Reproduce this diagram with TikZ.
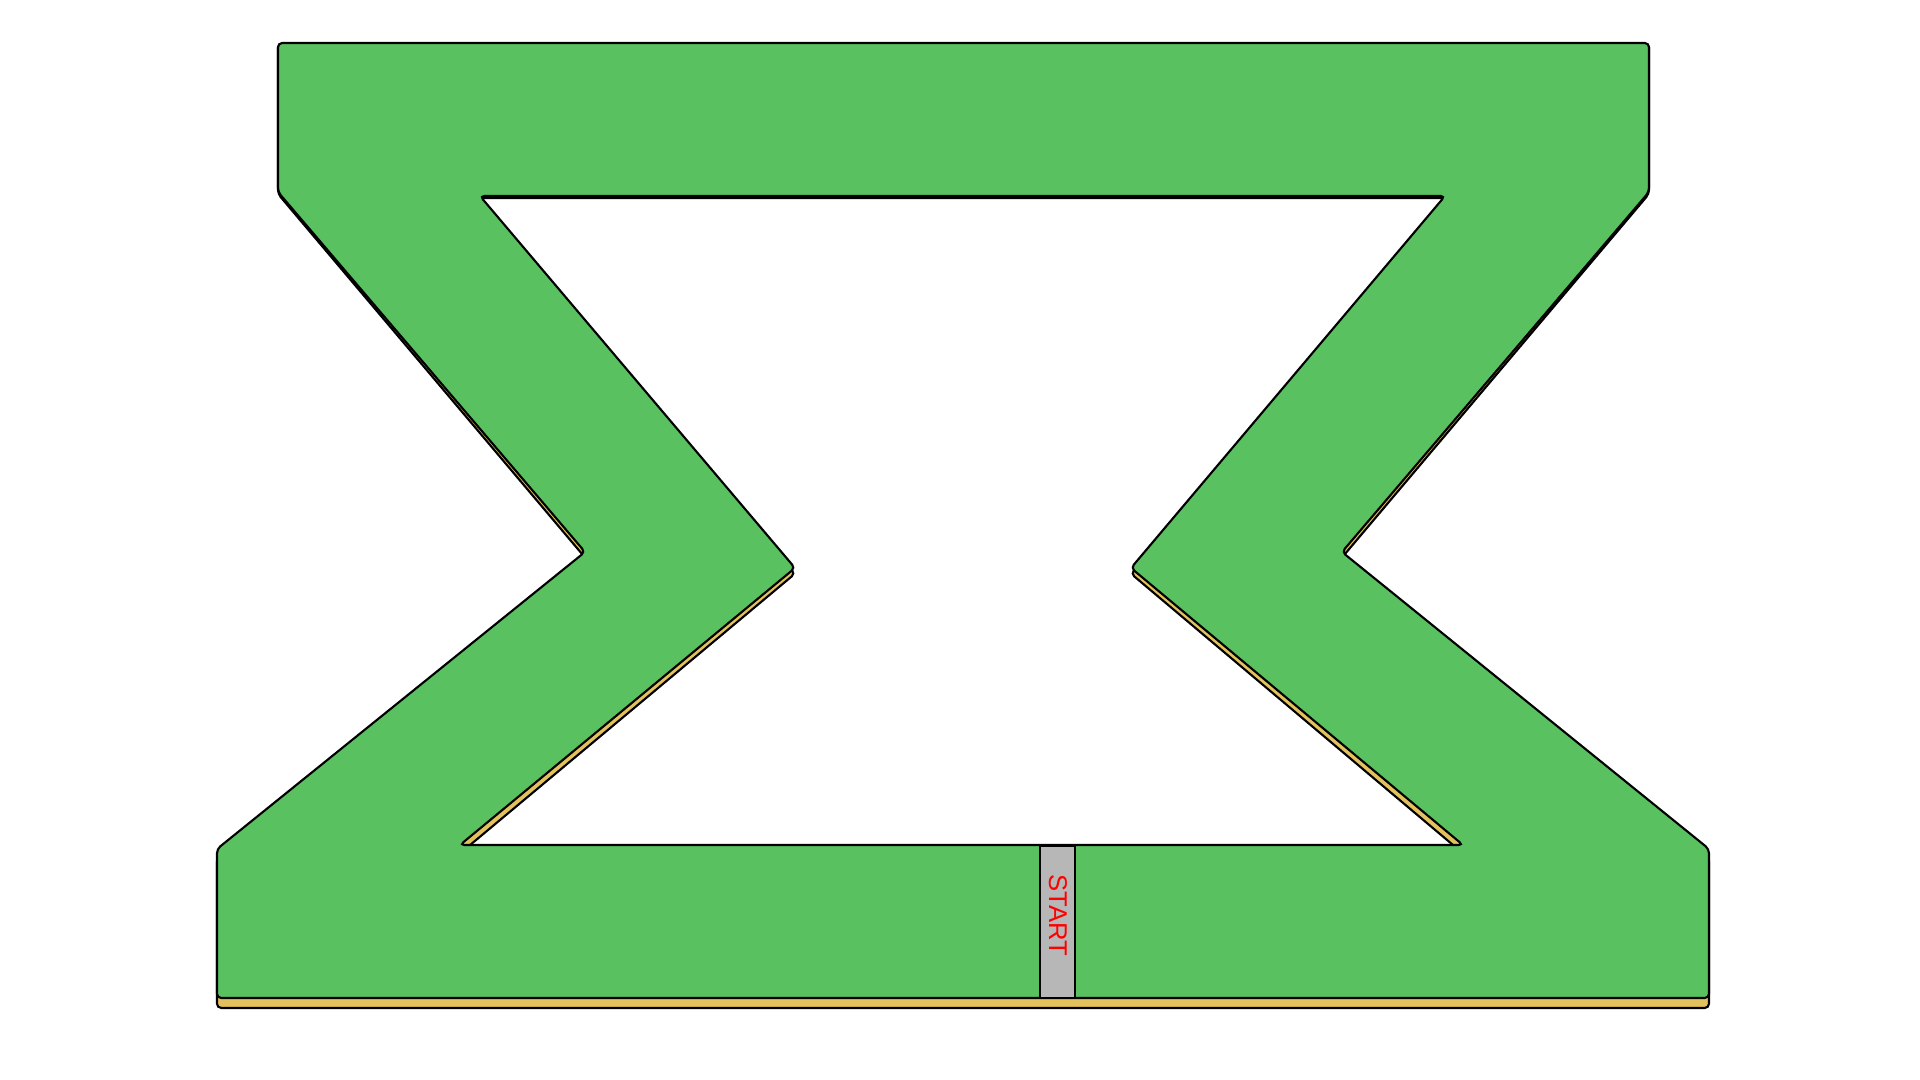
\documentclass[tikz,border=0pt]{standalone}
\usepackage{fontspec}
\setsansfont{Liberation Sans}
\usetikzlibrary{positioning}

\definecolor{trackgreen}{RGB}{89,193,95}
\definecolor{trackside}{RGB}{227,193,92}
\definecolor{startgrey}{RGB}{183,183,183}

\begin{document}
\begin{tikzpicture}[x=0.01cm, y=-0.01cm,
	track/.style={draw=black, line width=0.6pt, even odd rule, rounded corners=1.2pt},
	startlabel/.style={font=\sffamily\fontsize{7.3}{8}\selectfont, text=red, rotate=-90, inner sep=0pt}]
	\useasboundingbox (0,0) rectangle (1920,1080);

	% side face first (stretched down a little), then top face
	\foreach \ys/\col in {1.01/trackside, 1/trackgreen} {
		\path[track, fill=\col, yscale=\ys]
			(278,43) -- (1649,43) -- (1649,192) -- (1342,552) -- (1709,849)
			-- (1709,998) -- (217,998) -- (217,849) -- (585,552) -- (278,192) -- cycle
			(480,196) -- (1445,196) -- (1131,568) -- (1463,845)
			-- (460,845) -- (795,568) -- cycle;
	}

	% start line
	\draw[fill=startgrey, line width=0.6pt] (1040,846) rectangle (1075,998);
	\node[startlabel] (start) at (1058,915) {START};
\end{tikzpicture}
\end{document}
